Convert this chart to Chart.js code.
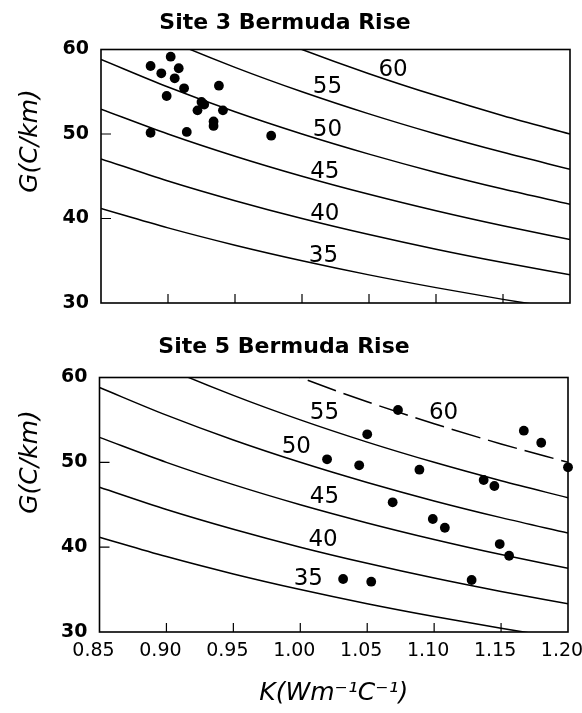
<!DOCTYPE html>
<html>
<head>
<meta charset="utf-8">
<script src="https://cdn.jsdelivr.net/npm/chart.js@4.4.1/dist/chart.umd.min.js"></script>
<style>
    html, body { margin: 0; padding: 0; background: #fff; }
    #wrap { position: relative; width: 582px; height: 713px; }
    #site3 { position: absolute; left: 0; top: 0; }
    #site5 { position: absolute; left: 0; top: 320px; }
</style>
</head>
<body>
<div id="wrap">
    <canvas id="site3" width="582" height="320"></canvas>
    <canvas id="site5" width="582" height="393"></canvas>
</div>
<script>
// conductivity values where the heat-flow curves were read
const kGrid = [0.85, 0.90, 0.95, 1.00, 1.05, 1.10, 1.15, 1.20];
const flowLevels = ["35", "40", "45", "50", "55", "60"];
const curve35 = [41.18, 38.89, 36.84, 35.00, 33.33, 31.82, 30.43, 29.17];
const curve40 = [47.06, 44.44, 42.11, 40.00, 38.10, 36.36, 34.78, 33.33];
const curve45 = [52.94, 50.00, 47.37, 45.00, 42.86, 40.91, 39.13, 37.50];
const curve50 = [58.82, 55.56, 52.63, 50.00, 47.62, 45.45, 43.48, 41.67];
const curve55 = [64.71, 61.11, 57.89, 55.00, 52.38, 50.00, 47.83, 45.83];
const curve60 = [70.59, 66.67, 63.16, 60.00, 57.14, 54.55, 52.17, 50.00];

// measured points, Site 3
const site3K = [0.887, 0.902, 0.908, 0.895, 0.905, 0.912, 0.938, 0.899, 0.925, 0.927,
                0.922, 0.941, 0.934, 0.934, 0.887, 0.914, 0.977];
const site3G = [58.05, 59.15, 57.78, 57.18, 56.59, 55.41, 55.72, 54.50, 53.79, 53.49,
                52.80, 52.80, 51.48, 50.95, 50.15, 50.24, 49.80];

// measured points, Site 5
const site5K = [1.020, 1.073, 1.050, 1.167, 1.180, 1.200, 1.044, 1.089, 1.137, 1.145,
                1.069, 1.099, 1.108, 1.149, 1.156, 1.032, 1.053, 1.128];
const site5G = [50.36, 56.17, 53.30, 53.73, 52.31, 49.41, 49.65, 49.13, 47.92, 47.21,
                45.29, 43.32, 42.29, 40.37, 38.99, 36.25, 35.93, 36.13];

// where the curve numbers are written (K, G), same order as flowLevels
const site3LabelK = [1.016, 1.017, 1.017, 1.019, 1.019, 1.068];
const site3LabelG = [35.56, 40.56, 45.54, 50.47, 55.60, 57.57];
const site5LabelK = [1.006, 1.017, 1.018, 0.997, 1.018, 1.107];
const site5LabelG = [36.25, 40.84, 45.95, 51.77, 55.78, 55.78];

const curves = [curve35, curve40, curve45, curve50, curve55, curve60];

// frame, inward ticks, curve numbers and axis titles
function paperPlugin(labelK, labelG, yTitleY, xTitleY) {
    return {
        id: "paper",
        afterDraw(chart) {
            const ctx = chart.ctx;
            const a = chart.chartArea;
            const xs = chart.scales.x;
            const ys = chart.scales.y;
            ctx.save();
            ctx.strokeStyle = "#000";
            ctx.lineWidth = 1.6;
            ctx.strokeRect(a.left, a.top, a.right - a.left, a.bottom - a.top);

            ctx.lineWidth = 1.2;
            ctx.beginPath();
            xs.ticks.forEach((t, i) => {
                if (i === 0 || i === xs.ticks.length - 1) return;
                const px = xs.getPixelForValue(t.value);
                ctx.moveTo(px, a.bottom);
                ctx.lineTo(px, a.bottom - 9);
            });
            ys.ticks.forEach((t, i) => {
                if (i === 0 || i === ys.ticks.length - 1) return;
                const py = ys.getPixelForValue(t.value);
                ctx.moveTo(a.left, py);
                ctx.lineTo(a.left + 10, py);
            });
            ctx.stroke();

            ctx.fillStyle = "#000";
            ctx.textAlign = "center";
            ctx.textBaseline = "middle";
            ctx.font = "23px 'DejaVu Sans'";
            labelK.forEach((k, i) => {
                ctx.fillText(flowLevels[i], xs.getPixelForValue(k), ys.getPixelForValue(labelG[i]));
            });

            if (xTitleY) {
                ctx.font = "italic 25px 'DejaVu Sans'";
                ctx.fillText("K(Wm\u207B\u00B9C\u207B\u00B9)", (a.left + a.right) / 2, xTitleY);
            }

            ctx.translate(30, yTitleY);
            ctx.rotate(-Math.PI / 2);
            ctx.font = "italic 25px 'DejaVu Sans'";
            ctx.fillText("G(C/km)", 0, 0);
            ctx.restore();
        }
    };
}

function makePanel(canvasId, titleText, kVals, gVals, panel) {
    const datasets = curves.map((c, i) => ({
        data: kGrid.map((k, j) => ({ x: k, y: c[j] })),
        borderColor: "#000",
        borderWidth: 1.5,
        borderDash: (panel.dashed60 && i === 5) ? [30, 8] : [],
        pointRadius: 0,
        cubicInterpolationMode: "monotone",
        fill: false
    }));
    datasets.push({
        data: kVals.map((k, j) => ({ x: k, y: gVals[j] })),
        showLine: false,
        pointRadius: 4.9,
        pointBackgroundColor: "#000",
        pointBorderWidth: 0,
        clip: 8
    });

    return new Chart(document.getElementById(canvasId).getContext("2d"), {
        type: "line",
        data: { datasets: datasets },
        options: {
            responsive: false,
            animation: false,
            layout: { padding: { left: 0, right: panel.padRight, top: 0, bottom: 0 } },
            plugins: {
                legend: { display: false },
                tooltip: { enabled: false },
                title: {
                    display: true,
                    text: titleText,
                    color: "#000",
                    font: { family: "'DejaVu Sans'", size: 22, weight: "bold", lineHeight: 1.2 },
                    padding: { top: panel.titleTop, bottom: panel.titleBottom }
                }
            },
            scales: {
                x: {
                    type: "linear",
                    min: 0.85,
                    max: 1.20,
                    grid: { display: false, drawTicks: false },
                    border: { display: false },
                    ticks: {
                        display: panel.showX,
                        stepSize: 0.05,
                        color: "#000",
                        padding: 8,
                        labelOffset: -6,
                        font: { family: "'DejaVu Sans'", size: 19 },
                        callback: v => v.toFixed(2)
                    },
                    afterFit: s => {
                        s.height = panel.xHeight;
                        s.paddingLeft = 0;
                        s.paddingRight = 0;
                    }
                },
                y: {
                    min: 30,
                    max: 60,
                    grid: { display: false, drawTicks: false },
                    border: { display: false },
                    ticks: {
                        stepSize: 10,
                        color: "#000",
                        padding: 12,
                        font: { family: "'DejaVu Sans'", size: 19, weight: "bold" }
                    },
                    afterFit: s => {
                        s.width = panel.yWidth;
                        s.paddingTop = 0;
                        s.paddingBottom = 0;
                    }
                }
            }
        },
        plugins: [paperPlugin(panel.labelK, panel.labelG, panel.yTitleY, panel.xTitleY)]
    });
}

makePanel("site3", "Site 3 Bermuda Rise", site3K, site3G, {
    padRight: 12, titleTop: 9.8, titleBottom: 13.3, xHeight: 17, yWidth: 101,
    showX: false, dashed60: false, labelK: site3LabelK, labelG: site3LabelG,
    yTitleY: 141, xTitleY: 0
});

makePanel("site5", "Site 5 Bermuda Rise", site5K, site5G, {
    padRight: 14, titleTop: 13.8, titleBottom: 17.3, xHeight: 81, yWidth: 99.5,
    showX: true, dashed60: true, labelK: site5LabelK, labelG: site5LabelG,
    yTitleY: 142, xTitleY: 373
});
</script>
</body>
</html>
